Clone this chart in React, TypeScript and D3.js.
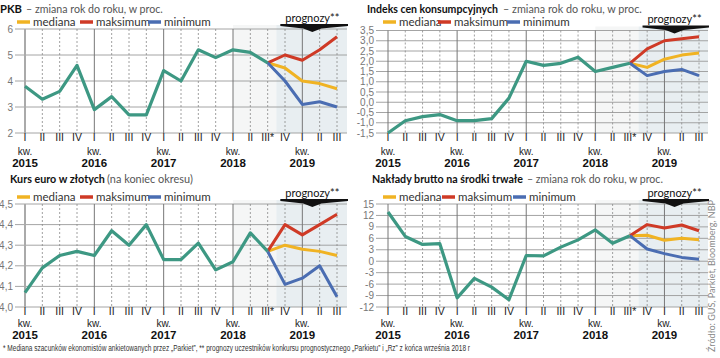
import { useLayoutEffect, useRef, useState } from "react"
import * as d3 from "d3"

// quarters on the x axis (2015 I .. 2019 III)
const quarters = ["I", "II", "III", "IV", "I", "II", "III", "IV", "I", "II", "III", "IV", "I", "II", "III*", "IV", "I", "II", "III"]
const years = ["2015", "2016", "2017", "2018", "2019"]
const yearStart = [0, 4, 8, 12, 16]
const forecastFrom = 14

// PKB – zmiana r/r
const pkbHist = [3.8, 3.3, 3.6, 4.6, 2.9, 3.4, 2.7, 2.7, 4.4, 4.0, 5.2, 4.9, 5.2, 5.1, 4.7]
const pkbMed = [4.7, 4.5, 4.0, 3.9, 3.7]
const pkbMax = [4.7, 5.0, 4.8, 5.2, 5.7]
const pkbMin = [4.7, 4.0, 3.1, 3.2, 3.0]
const pkbTicks = [2, 3, 4, 5, 6]

// CPI
const cpiHist = [-1.5, -0.9, -0.7, -0.6, -0.9, -0.9, -0.8, 0.2, 2.0, 1.8, 1.9, 2.2, 1.5, 1.7, 1.9]
const cpiMed = [1.9, 1.7, 2.1, 2.3, 2.4]
const cpiMax = [1.9, 2.6, 3.0, 3.1, 3.2]
const cpiMin = [1.9, 1.3, 1.5, 1.6, 1.3]
const cpiTicks = [-1.5, -1.0, -0.5, 0, 0.5, 1.0, 1.5, 2.0, 2.5, 3.0, 3.5]

// EUR/PLN
const eurHist = [4.07, 4.19, 4.25, 4.27, 4.25, 4.37, 4.30, 4.40, 4.23, 4.23, 4.31, 4.18, 4.22, 4.36, 4.27]
const eurMed = [4.27, 4.30, 4.28, 4.27, 4.25]
const eurMax = [4.27, 4.40, 4.35, 4.40, 4.45]
const eurMin = [4.27, 4.11, 4.14, 4.20, 4.05]
const eurTicks = [4.0, 4.1, 4.2, 4.3, 4.4, 4.5]

// nakłady brutto na środki trwałe
const invHist = [12.9, 6.5, 4.4, 4.6, -9.6, -4.5, -6.8, -10.1, 1.5, 1.4, 3.7, 5.6, 8.2, 4.7, 6.7]
const invMed = [6.7, 6.8, 5.5, 6.0, 5.6]
const invMax = [6.7, 9.6, 8.7, 9.5, 8.0]
const invMin = [6.7, 3.2, 2.0, 1.0, 0.5]
const invTicks = [-12, -9, -6, -3, 0, 3, 6, 9, 12, 15]

const GREEN = "#3d9883"
const YELLOW = "#f0b323"
const RED = "#cf3a26"
const BLUE = "#4a6db2"
const GRID = "#9a9a9a"
const FONT = "Lato, 'Open Sans', sans-serif"
const AXIS_FONT = "'Liberation Sans', Arial, sans-serif"

type Panel = {
  bold: string
  rest: string
  tx: number
  ty: number
  boldW: number
  restX: number
  restW: number
  hist: number[]
  med: number[]
  max: number[]
  min: number[]
  ticks: number[]
  fmt: (v: number) => string
  x0: number
  x1: number
  gl: number
  gr: number
  yt: number
  yb: number
  legendX: number[]
  legendY: number
  lab: number[]
}

const comma = (v: number) => d3.format(".1f")(v).replace(".", ",").replace("−", "-")
const intf = (v: number) => String(v)

const panels: Panel[] = [
  {
    bold: "PKB", rest: "– zmiana rok do roku, w proc.", tx: 0, ty: 12.5, boldW: 22, restX: 26, restW: 137,
    hist: pkbHist, med: pkbMed, max: pkbMax, min: pkbMin, ticks: pkbTicks, fmt: intf,
    x0: 25, x1: 337, gl: 15, gr: 347, yt: 29, yb: 133, legendX: [17, 80, 148], legendY: 22, lab: [8, 21.5, 33.5],
  },
  {
    bold: "Indeks cen konsumpcyjnych", rest: "– zmiana rok do roku, w proc.", tx: 367, ty: 12.5, boldW: 131, restX: 503, restW: 139,
    hist: cpiHist, med: cpiMed, max: cpiMax, min: cpiMin, ticks: cpiTicks, fmt: comma,
    x0: 388, x1: 699, gl: 376, gr: 708, yt: 30.5, yb: 133, legendX: [383, 438, 507], legendY: 22, lab: [8, 21.5, 33.5],
  },
  {
    bold: "Kurs euro w złotych", rest: "(na koniec okresu)", tx: 10, ty: 182.5, boldW: 95, restX: 107, restW: 86,
    hist: eurHist, med: eurMed, max: eurMax, min: eurMin, ticks: eurTicks, fmt: comma,
    x0: 25, x1: 337, gl: 15, gr: 347, yt: 204, yb: 307, legendX: [17, 80, 148], legendY: 197, lab: [8, 19.5, 32.2],
  },
  {
    bold: "Nakłady brutto na środki trwałe", rest: "– zmiana rok do roku, w proc.", tx: 372, ty: 182.5, boldW: 151, restX: 527, restW: 136,
    hist: invHist, med: invMed, max: invMax, min: invMin, ticks: invTicks, fmt: intf,
    x0: 388, x1: 699, gl: 376, gr: 708, yt: 204, yb: 307, legendX: [383, 442, 513], legendY: 197, lab: [8, 19.5, 32.2],
  },
]

function ChartPanel({ p }: { p: Panel }) {
  const boldRef = useRef<SVGTextElement>(null)
  const restRef = useRef<SVGTextElement>(null)
  const [sx, setSx] = useState([0.8, 0.8])

  // squeeze the title parts horizontally to the widths seen in the reference
  useLayoutEffect(() => {
    const b = boldRef.current?.getComputedTextLength() || p.boldW
    const r = restRef.current?.getComputedTextLength() || p.restW
    setSx([p.boldW / b, p.restW / r])
  }, [p.bold, p.rest])

  const x = d3.scaleLinear().domain([0, quarters.length - 1]).range([p.x0, p.x1])
  const y = d3.scaleLinear().domain([p.ticks[0], p.ticks[p.ticks.length - 1]]).range([p.yb, p.yt])
  const step = x(1) - x(0)
  const line = d3.line<number>().x((_, i) => x(i)).y(d => y(d))
  const fline = d3.line<number>().x((_, i) => x(i + forecastFrom)).y(d => y(d))
  const shadeX = x(forecastFrom) + step / 2
  const lightX = x(12)
  const mid = shadeX + 36
  const at = p.yt - 5
  const arrow = [
    [shadeX + 4, at], [p.gr + 1, at], [p.gr + 1, at + 2], [mid + 9, at + 4.5],
    [mid, at + 8], [mid - 9, at + 4.5], [shadeX + 4, at + 2],
  ].map(d => d.join(",")).join(" ")
  const legend = [
    { c: YELLOW, t: "mediana" },
    { c: RED, t: "maksimum" },
    { c: BLUE, t: "minimum" },
  ]

  return (
    <g>
      {/* title */}
      <text ref={boldRef} x={0} y={0} transform={`translate(${p.tx},${p.ty}) scale(${sx[0]},1)`}
        fontSize={12} fontWeight={700} fill="#111">{p.bold}</text>
      <text ref={restRef} x={0} y={0} transform={`translate(${p.restX},${p.ty}) scale(${sx[1]},1)`}
        fontSize={12} fill="#555">{p.rest}</text>

      {/* legend */}
      {legend.map((l, i) => (
        <g key={l.t}>
          <line x1={p.legendX[i]} x2={p.legendX[i] + 13} y1={p.legendY} y2={p.legendY} stroke={l.c} strokeWidth={3.5} />
          <text x={p.legendX[i] + 16} y={p.legendY + 4} fontSize={11.5} fill="#333">{l.t}</text>
        </g>
      ))}

      {/* forecast shading */}
      <rect x={lightX} y={p.yt - 4} width={shadeX - lightX} height={p.yb - p.yt + 4} fill="#f5f6f6" />
      <rect x={shadeX} y={p.yt - 4} width={p.gr - shadeX} height={p.yb - p.yt + 4} fill="#e8eef1" />

      {/* horizontal grid + y ticks */}
      {p.ticks.map(t => (
        <g key={t}>
          <line x1={p.gl} x2={p.gr} y1={y(t)} y2={y(t)} stroke={GRID} strokeWidth={0.9} />
          <text x={p.gl - 2} y={y(t) + 3.5} fontSize={10} fill="#777" textAnchor="end" style={{ fontFamily: AXIS_FONT }}>{p.fmt(t)}</text>
        </g>
      ))}

      {/* vertical grid */}
      {quarters.map((_, i) => {
        const ys = yearStart.includes(i)
        return (
          <line key={i} x1={x(i)} x2={x(i)} y1={p.yt} y2={p.yb}
            stroke={i === 0 && p.x0 < 100 ? "#aaa" : ys ? "#777" : "#888"}
            strokeWidth={i === 0 && p.x0 < 100 ? 2 : ys ? 1 : 0.8}
            strokeDasharray={ys ? undefined : "2,2"} />
        )
      })}

      {/* forecast banner */}
      <polygon points={arrow} fill="#111" />
      <text x={mid} y={p.yt - 7.5} fontSize={11} fill="#111" textAnchor="middle">prognozy**</text>

      {/* x labels */}
      <g style={{ fontFamily: AXIS_FONT }} textAnchor="middle">
        {quarters.map((q, i) => (
          <text key={i} x={x(i)} y={p.yb + p.lab[0]} fontSize={10.5} fill="#222">{q}</text>
        ))}
        {yearStart.map((s, i) => (
          <g key={s}>
            <text x={x(s)} y={p.yb + p.lab[1]} fontSize={10} fill="#222">kw.</text>
            <text x={x(s)} y={p.yb + p.lab[2]} fontSize={11.5} fontWeight={700} fill="#111">{years[i]}</text>
          </g>
        ))}
      </g>

      {/* series */}
      <path d={fline(p.med)!} fill="none" stroke={YELLOW} strokeWidth={3} strokeLinejoin="round" />
      <path d={fline(p.max)!} fill="none" stroke={RED} strokeWidth={3} strokeLinejoin="round" />
      <path d={fline(p.min)!} fill="none" stroke={BLUE} strokeWidth={3} strokeLinejoin="round" />
      <path d={line(p.hist)!} fill="none" stroke={GREEN} strokeWidth={3.2} strokeLinejoin="round" />
    </g>
  )
}

export default function App() {
  return (
    <svg width={720} height={358} viewBox="0 0 720 358"
      style={{ position: "absolute", left: 0, top: 0, background: "#fff", fontFamily: FONT }}>
      {panels.map((p, i) => <ChartPanel key={i} p={p} />)}
      <text x={3} y={351} fontSize={8.5} fill="#333" textLength={467} lengthAdjust="spacingAndGlyphs"
        style={{ fontFamily: AXIS_FONT }}>
        * Mediana szacunków ekonomistów ankietowanych przez „Parkiet”, ** prognozy uczestników konkursu prognostycznego „Parkietu” i „Rz” z końca września 2018 r
      </text>
      <text transform="translate(715,352) rotate(-90)" fontSize={9} fill="#888" textLength={152} lengthAdjust="spacingAndGlyphs">
        Źródło: GUS, Parkiet, Bloomberg, NBP
      </text>
    </svg>
  )
}
